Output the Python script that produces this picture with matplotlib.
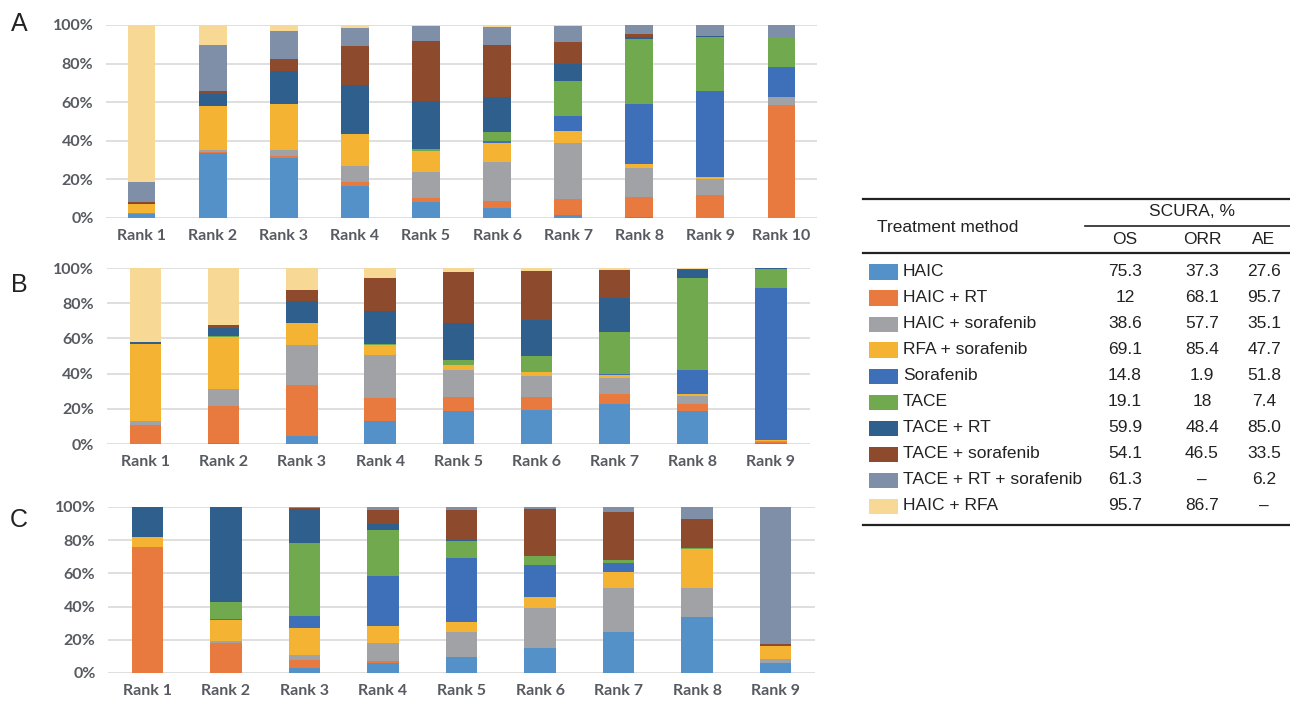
import matplotlib
matplotlib.use("Agg")
import matplotlib.pyplot as plt
from matplotlib.patches import Rectangle
from matplotlib.lines import Line2D
import numpy as np

# treatments (order of stacking, bottom -> top) and colours
treatments = ["HAIC", "HAIC + RT", "HAIC + sorafenib", "RFA + sorafenib", "Sorafenib",
              "TACE", "TACE + RT", "TACE + sorafenib", "TACE + RT + sorafenib", "HAIC + RFA"]
colors = ["#5591C9", "#E8793F", "#A0A2A5", "#F5B334", "#3D70B9",
          "#70A94E", "#2F5F8C", "#8E4A2D", "#7F8FA7", "#F7D995"]

# SUCRA table
os_vals = ["75.3", "12", "38.6", "69.1", "14.8", "19.1", "59.9", "54.1", "61.3", "95.7"]
orr_vals = ["37.3", "68.1", "57.7", "85.4", "1.9", "18", "48.4", "46.5", "\u2013", "86.7"]
ae_vals = ["27.6", "95.7", "35.1", "47.7", "51.8", "7.4", "85.0", "33.5", "6.2", "\u2013"]

# panel A (OS) - rank probabilities, one row per treatment, Rank 1..10
rank_os = [
    [2, 33.5, 31, 16.5, 8.5, 5, 1.5, 0.5, 0, 0],
    [0.5, 0.5, 1, 2, 2, 4, 8.5, 10.5, 12, 58.5],
    [0, 1, 3, 8.5, 13.5, 20, 29, 15, 8, 4],
    [5, 23, 24, 16.5, 10.5, 10, 6, 2, 1, 0],
    [0, 0, 0, 0, 0, 1, 8, 31, 45, 15.5],
    [0, 0, 0, 0, 1, 4.5, 18, 34, 28, 15.5],
    [0.5, 6, 17, 25.5, 25, 18, 9, 1, 0.5, 0],
    [0.5, 2, 6.5, 20, 31, 27, 11, 1.5, 0, 0],
    [10, 23.5, 14.5, 9.5, 8, 9.5, 8.5, 4.5, 5.5, 6.5],
    [81.5, 10.5, 3, 1.5, 0.5, 1, 0.5, 0, 0, 0],
]

# panel B (ORR), Rank 1..9
rank_orr = [
    [0, 0.5, 4.5, 13, 18.5, 19.5, 23, 18.5, 0.5],
    [11, 21, 29, 13, 8, 7, 5.5, 4, 0.5],
    [2, 10, 22.5, 24.5, 15.5, 12, 9, 5, 0.5],
    [44, 29.5, 12.5, 5.5, 3, 2.5, 1.5, 1, 0.5],
    [0, 0, 0, 0, 0, 0, 0.5, 13.5, 86.5],
    [0, 0.5, 0.5, 1, 3, 9, 24, 52.5, 11],
    [1, 4.5, 12, 18.5, 20.5, 20.5, 19.5, 4.5, 0.5],
    [0, 1.5, 6.5, 19, 29, 28, 16, 0.5, 0],
    [0, 0, 0, 0, 0, 0, 0, 0, 0],
    [42, 32.5, 12.5, 5.5, 2.5, 1.5, 1, 0.5, 0],
]

# panel C (AE), Rank 1..9
rank_ae = [
    [0, 0, 3, 6, 9.5, 15, 25, 33.5, 6],
    [76, 18, 5, 1, 0, 0, 0, 0, 0],
    [0, 1, 3, 11, 15.5, 24, 26, 18, 2.5],
    [6, 13, 16, 10.5, 6, 7, 10, 23, 7.5],
    [0, 0.5, 7.5, 30, 38, 19, 5, 0, 0],
    [0, 10, 44, 27.5, 10.5, 5.5, 2, 1, 0],
    [18, 57.5, 20, 4, 0.5, 0, 0, 0, 0],
    [0, 0, 1, 8, 18, 28, 29, 17.5, 1.5],
    [0, 0, 0.5, 2, 2, 1.5, 3, 7, 82.5],
    [0, 0, 0, 0, 0, 0, 0, 0, 0],
]

W, H = 1290, 704
fig = plt.figure(figsize=(W / 100, H / 100), dpi=100)

tick_font = dict(family="Lato", weight="bold", size=11.5, color="#575B61")


def stacked_panel(rect, data, letter, letter_y, width):
    l, r, y0, y100 = rect
    ax = fig.add_axes([l / W, 1 - y0 / H, (r - l) / W, (y0 - y100) / H])
    data = np.array(data, dtype=float)
    n = data.shape[1]
    x = np.arange(n)
    bottom = np.zeros(n)
    for row, c in zip(data, colors):
        ax.bar(x, row, bottom=bottom, width=width, color=c, linewidth=0, zorder=3)
        bottom += row
    ax.set_xlim(-0.5, n - 0.5)
    ax.set_ylim(0, 100)
    ax.set_yticks(np.arange(0, 101, 20))
    ax.set_yticklabels([f"{v}%" for v in range(0, 101, 20)])
    ax.set_xticks(x)
    ax.set_xticklabels([f"Rank {i + 1}" for i in range(n)])
    for lab in ax.get_xticklabels() + ax.get_yticklabels():
        lab.set_fontfamily(tick_font["family"])
        lab.set_fontweight(tick_font["weight"])
        lab.set_fontsize(tick_font["size"])
        lab.set_color(tick_font["color"])
    ax.tick_params(length=0)
    ax.tick_params(axis="y", pad=9)
    ax.tick_params(axis="x", pad=8)
    ax.yaxis.grid(True, color="#D9D9D9", linewidth=1.2, zorder=0)
    ax.set_axisbelow(True)
    for s in ax.spines.values():
        s.set_visible(False)
    fig.text(19 / W, 1 - letter_y / H, letter, fontsize=18, family="Liberation Sans",
             color="#222222", va="center", ha="center")
    return ax


stacked_panel((106, 817, 218, 25), rank_os, "A", 24, 0.39)
stacked_panel((106.5, 810, 444, 268), rank_orr, "B", 285, 0.40)
stacked_panel((108, 815, 673, 507), rank_ae, "C", 520, 0.40)

# ---- table on the right ----
tf = dict(family="Liberation Sans", fontsize=12.5, color="#222222")


def fx(px):
    return px / W


def fy(py):
    return 1 - py / H


def hline(x0, x1, y, lw):
    fig.add_artist(Line2D([fx(x0), fx(x1)], [fy(y), fy(y)], color="#222222", linewidth=lw))


hline(863, 1290, 198.5, 1.6)
hline(1085, 1290, 226, 1.2)
hline(863, 1290, 253, 1.6)
hline(863, 1290, 524.5, 1.6)

fig.text(fx(877), fy(227), "Treatment method", ha="left", va="center", **tf)
fig.text(fx(1192), fy(212), "SCURA, %", ha="center", va="center", **tf)
col_x = [1125, 1202, 1264]
for cx, name in zip(col_x, ["OS", "ORR", "AE"]):
    fig.text(fx(cx), fy(239), name, ha="center", va="center", **tf)

for i, name in enumerate(treatments):
    y = 272 + 26 * i
    fig.add_artist(Rectangle((fx(869), fy(y + 7.5)), (898 - 869) / W, 15 / H,
                             facecolor=colors[i], edgecolor="none"))
    fig.text(fx(903), fy(y), name, ha="left", va="center", **tf)
    for cx, v in zip(col_x, [os_vals[i], orr_vals[i], ae_vals[i]]):
        fig.text(fx(cx), fy(y), v, ha="center", va="center", **tf)

fig.savefig("out.png", dpi=100)
